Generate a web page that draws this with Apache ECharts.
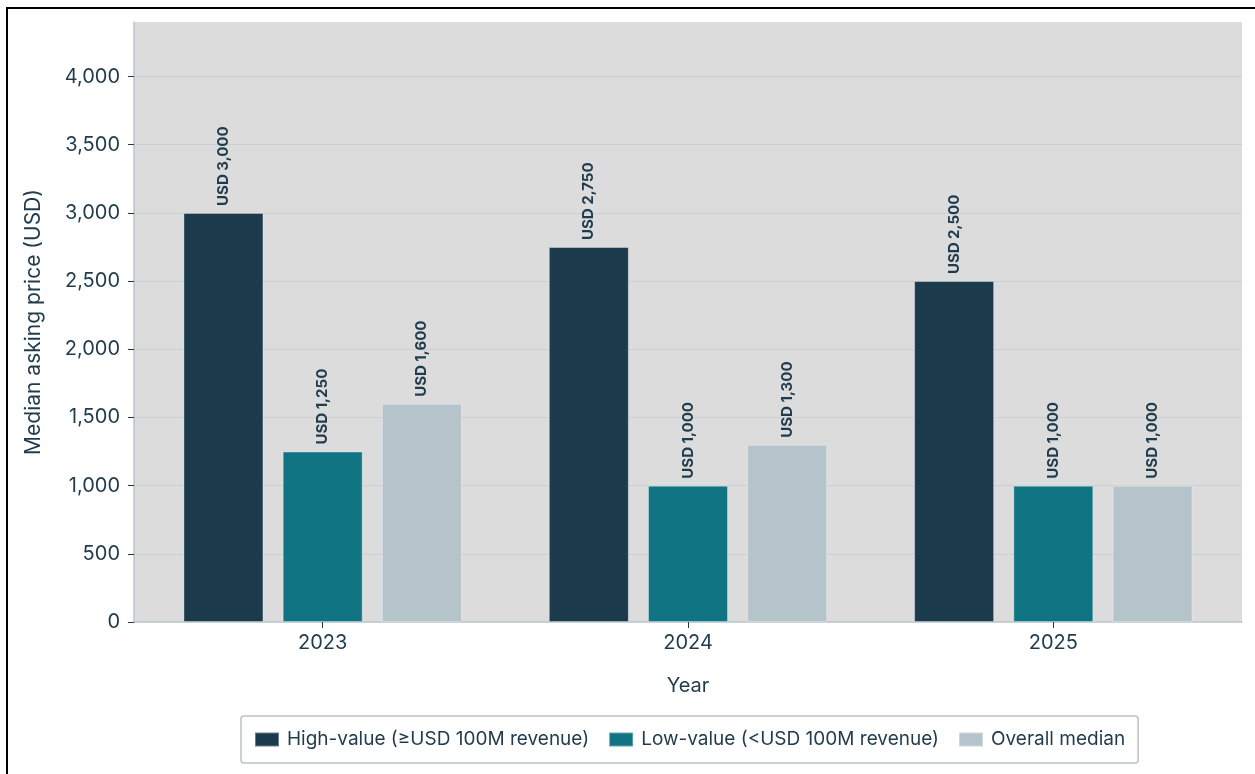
<!DOCTYPE html>
<html>
<head>
<meta charset="utf-8">
<script src="https://cdn.jsdelivr.net/npm/echarts@6/dist/echarts.min.js"></script>
<style>
  html, body { margin: 0; padding: 0; background: #ffffff; overflow: hidden; }
  #frame { position: absolute; left: 6px; top: 7px; width: 1300px; height: 820px; border: 2px solid #000; box-sizing: border-box; }
  #chart { position: absolute; left: 0; top: 0; width: 1255px; height: 774px; }
</style>
</head>
<body>
<div id="frame"></div>
<div id="chart"></div>
<script>
// Median asking price by year and company size
const years = ['2023', '2024', '2025'];
const highValue = [3000, 2750, 2500];
const lowValue = [1250, 1000, 1000];
const overallMedian = [1600, 1300, 1000];
const seriesNames = ['High-value (\u2265USD 100M revenue)', 'Low-value (<USD 100M revenue)', 'Overall median'];
const seriesColors = ['#1b3a4b', '#117482', '#b5c4ca'];

const FONT = 'Inter, "Noto Sans", sans-serif';
const TEXT = '#1f3b4c';
const AXIS = '#b8c4ca';
const Y_MAX = 4400;

const chart = echarts.init(document.getElementById('chart'));

function barSeries(name, data, color) {
  return {
    name: name,
    type: 'bar',
    xAxisIndex: 1,
    yAxisIndex: 1,
    data: data,
    barWidth: 80,
    barGap: '24%',
    itemStyle: { color: color, borderColor: 'rgba(255,255,255,0.35)', borderWidth: 1 },
    label: {
      show: true,
      position: 'top',
      rotate: 90,
      align: 'left',
      verticalAlign: 'middle',
      distance: 7,
      fontFamily: FONT,
      fontSize: 15,
      fontWeight: 'bold',
      color: TEXT,
      formatter: p => 'USD ' + p.value.toLocaleString('en-US')
    },
    emphasis: { disabled: true }
  };
}

chart.setOption({
  animation: false,
  textStyle: { fontFamily: FONT },
  grid: [
    { left: 134, right: 13, top: 22, bottom: 152, show: true, backgroundColor: '#dcdcdc', borderWidth: 0 },
    { left: 140, right: 19, top: 22, bottom: 152 }
  ],
  xAxis: [
    {
      type: 'value', gridIndex: 0, min: 0, max: 1,
      axisLine: { show: true, lineStyle: { color: AXIS, width: 1.5 } },
      axisTick: { show: false }, axisLabel: { show: false }, splitLine: { show: false }
    },
    {
      type: 'category', gridIndex: 1, data: years,
      name: 'Year', nameLocation: 'middle', nameGap: 54,
      nameTextStyle: { fontFamily: FONT, fontSize: 20, color: TEXT },
      axisLine: { show: false },
      axisTick: { show: true, alignWithLabel: true, length: 6, lineStyle: { color: TEXT } },
      axisLabel: { fontFamily: FONT, fontSize: 20, color: TEXT, margin: 11 }
    }
  ],
  yAxis: [
    {
      type: 'value', gridIndex: 0, min: 0, max: Y_MAX, interval: 500,
      name: 'Median asking price (USD)', nameLocation: 'middle', nameGap: 90,
      nameTextStyle: { fontFamily: FONT, fontSize: 21, color: TEXT },
      axisLine: { show: true, lineStyle: { color: AXIS, width: 1.5 } },
      axisTick: { show: true, length: 6, lineStyle: { color: TEXT } },
      axisLabel: {
        fontFamily: FONT, fontSize: 20, color: TEXT, margin: 14,
        showMaxLabel: false,
        formatter: v => v.toLocaleString('en-US')
      },
      splitLine: { show: true, showMinLine: false, showMaxLine: false, lineStyle: { color: '#c7d0d5', width: 1 } }
    },
    { type: 'value', gridIndex: 1, min: 0, max: Y_MAX, show: false }
  ],
  legend: {
    top: 716,
    left: 241,
    data: seriesNames,
    itemWidth: 24,
    itemHeight: 14,
    itemGap: 19,
    padding: [14, 13, 14, 13],
    borderColor: AXIS,
    borderWidth: 1.5,
    borderRadius: 3,
    icon: 'rect',
    textStyle: { fontFamily: FONT, fontSize: 19, color: TEXT, padding: [0, 0, 0, 3] },
    selectedMode: false
  },
  series: [
    barSeries(seriesNames[0], highValue, seriesColors[0]),
    barSeries(seriesNames[1], lowValue, seriesColors[1]),
    barSeries(seriesNames[2], overallMedian, seriesColors[2])
  ]
});
</script>
</body>
</html>
